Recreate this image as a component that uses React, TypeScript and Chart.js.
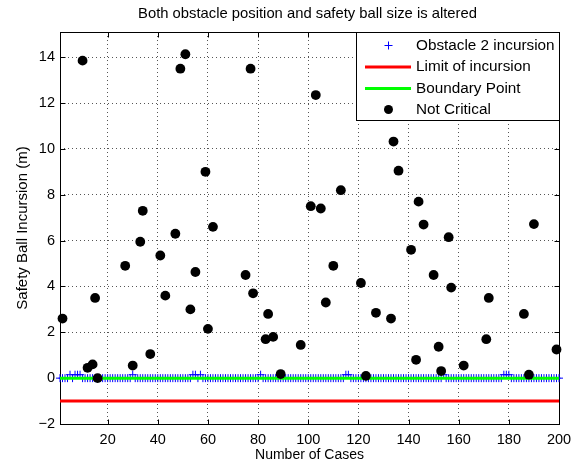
import { useEffect, useRef } from "react";
import { Chart, registerables } from "chart.js";

Chart.register(...registerables);

const titleText = "Both obstacle position and safety ball size is altered";
const xAxisLabel = "Number of Cases";
const yAxisLabel = "Safety Ball Incursion (m)";

const xTicks = [20, 40, 60, 80, 100, 120, 140, 160, 180, 200];
const yTicks = [-2, 0, 2, 4, 6, 8, 10, 12, 14];
const xRange = [1, 200];
const yRange = [-2, 15.1];

// case numbers 1..200
const caseNumbers = Array.from({ length: 200 }, (_, i) => i + 1);

// Obstacle 2 incursion (blue +), one value per case
const obstacleIncursion = [
  0, 0, 0, 0, 0.15, 0, 0.15, 0.15, 0.15, 0, 0, 0, 0, 0, 0, 0, 0, 0, 0, 0,
  0, 0, 0, 0, 0, 0, 0, 0, 0, 0.15, 0, 0, 0, 0, 0, 0, 0, 0, 0, 0,
  0, 0, 0, 0, 0, 0, 0, 0, 0, 0, 0, 0, 0, 0.15, 0.15, 0, 0.15, 0, 0, 0,
  0, 0, 0, 0, 0, 0, 0, 0, 0, 0, 0, 0, 0, 0, 0, 0, 0, 0, 0, 0,
  0.15, 0, 0, 0, 0, 0, 0, 0, 0, 0, 0, 0, 0, 0, 0, 0, 0, 0, 0, 0,
  0, 0, 0, 0, 0, 0, 0, 0, 0, 0, 0, 0, 0, 0, 0.15, 0.15, 0, 0, 0, 0,
  0, 0, 0, 0, 0, 0, 0, 0, 0, 0, 0, 0, 0, 0, 0, 0, 0, 0, 0, 0,
  0, 0, 0, 0, 0, 0, 0, 0, 0, 0, 0, 0, 0, 0.15, 0, 0, 0, 0, 0, 0,
  0, 0, 0, 0, 0, 0, 0, 0, 0, 0, 0, 0, 0, 0, 0, 0, 0, 0.15, 0.15, 0.15,
  0, 0, 0, 0, 0, 0, 0, 0, 0, 0, 0, 0, 0, 0, 0, 0, 0, 0, 0, 0,
];

// Limit of incursion (red line)
const limitX = [1, 200];
const limitY = [-1, -1];

// Boundary point (green line)
const boundaryX = [1, 200];
const boundaryY = [0, 0];

// Not critical (black dots)
const notCriticalX = [
  2, 10, 12, 14, 15, 16, 27, 30, 33, 34, 37, 41, 43, 47, 49, 51, 53, 55, 59, 60,
  62, 75, 77, 78, 83, 84, 86, 89, 97, 101, 103, 105, 107, 110, 113, 121, 123, 127,
  133, 134, 136, 141, 143, 144, 146, 150, 152, 153, 156, 157, 162, 171, 172, 186,
  188, 190, 199,
];
const notCriticalY = [
  2.6, 13.85, 0.45, 0.6, 3.5, 0.0, 4.9, 0.55, 5.95, 7.3, 1.05, 5.35, 3.6, 6.3, 13.5,
  14.13, 3.0, 4.63, 9.0, 2.15, 6.6, 4.5, 13.5, 3.7, 1.7, 2.8, 1.8, 0.18, 1.45, 7.5,
  12.35, 7.4, 3.3, 4.9, 8.2, 4.15, 0.1, 2.85, 2.6, 10.32, 9.05, 5.6, 0.8, 7.7, 6.7,
  4.5, 1.37, 0.31, 6.15, 3.95, 0.55, 1.7, 3.5, 2.8, 0.15, 6.72, 1.25,
];

const FONT = "'Liberation Sans', Arial, Helvetica, sans-serif";

const zip = (xs: number[], ys: number[]) => xs.map((x, i) => ({ x, y: ys[i] }));

const matlabFrame = {
  id: "matlabFrame",
  beforeDatasetsDraw(chart: any) {
    const { ctx, chartArea: a, scales } = chart;
    const L = Math.round(a.left) + 0.5;
    const R = Math.round(a.right) + 0.5;
    const T = Math.round(a.top) + 0.5;
    const B = Math.round(a.bottom) + 0.5;
    ctx.save();
    ctx.strokeStyle = "#000";
    ctx.lineWidth = 1;
    ctx.setLineDash([]);
    ctx.strokeRect(L, T, R - L, B - T);
    const tl = 5;
    ctx.beginPath();
    for (const v of xTicks) {
      const px = Math.round(scales.x.getPixelForValue(v)) + 0.5;
      ctx.moveTo(px, B);
      ctx.lineTo(px, B - tl);
      ctx.moveTo(px, T);
      ctx.lineTo(px, T + tl);
    }
    for (const v of yTicks) {
      const py = Math.round(scales.y.getPixelForValue(v)) + 0.5;
      ctx.moveTo(L, py);
      ctx.lineTo(L + tl, py);
      ctx.moveTo(R, py);
      ctx.lineTo(R - tl, py);
    }
    ctx.stroke();
    ctx.restore();
  },
  afterDraw(chart: any) {
    const { ctx, chartArea: a } = chart;
    ctx.save();
    // title
    ctx.fillStyle = "#000";
    ctx.font = `14.8px ${FONT}`;
    ctx.textAlign = "center";
    ctx.textBaseline = "middle";
    ctx.fillText(titleText, (a.left + a.right) / 2 - 2, 14);

    // legend box
    const bx = 356.5, by = 32.5, bw = 203, bh = 88;
    ctx.fillStyle = "#fff";
    ctx.fillRect(bx, by, bw, bh);
    ctx.strokeStyle = "#000";
    ctx.lineWidth = 1;
    ctx.strokeRect(bx, by, bw, bh);

    const rows = [45.5, 67, 88.5, 109.5];
    const ds = chart.data.datasets;
    const sampleL = 365, sampleR = 411, sampleC = 388.5, textX = 416;
    ds.forEach((d: any, i: number) => {
      const y = rows[i];
      if (d.kind === "cross") {
        ctx.strokeStyle = d.borderColor;
        ctx.lineWidth = 1;
        ctx.beginPath();
        ctx.moveTo(sampleC - 4, y);
        ctx.lineTo(sampleC + 4, y);
        ctx.moveTo(sampleC, y - 4);
        ctx.lineTo(sampleC, y + 4);
        ctx.stroke();
      } else if (d.kind === "line") {
        ctx.strokeStyle = d.borderColor;
        ctx.lineWidth = d.borderWidth;
        ctx.beginPath();
        ctx.moveTo(sampleL, y);
        ctx.lineTo(sampleR, y);
        ctx.stroke();
      } else {
        ctx.fillStyle = d.backgroundColor;
        ctx.beginPath();
        ctx.arc(sampleC, y, 4.5, 0, Math.PI * 2);
        ctx.fill();
      }
      ctx.fillStyle = "#000";
      ctx.font = `15.3px ${FONT}`;
      ctx.textAlign = "left";
      ctx.textBaseline = "middle";
      ctx.fillText(d.label, textX, y);
    });
    ctx.restore();
  },
};

export default function App() {
  const ref = useRef<HTMLCanvasElement | null>(null);

  useEffect(() => {
    if (!ref.current) return;
    const chart = new Chart(ref.current, {
      type: "scatter",
      data: {
        datasets: [
          {
            label: "Obstacle 2 incursion",
            kind: "cross",
            data: zip(caseNumbers, obstacleIncursion),
            pointStyle: "cross",
            pointRadius: 4,
            pointBorderWidth: 1,
            borderColor: "#0000ff",
            backgroundColor: "#0000ff",
            showLine: false,
            order: 4,
            clip: false,
          } as any,
          {
            label: "Limit of incursion",
            kind: "line",
            data: zip(limitX, limitY),
            showLine: true,
            borderColor: "#ff0000",
            backgroundColor: "#ff0000",
            borderWidth: 3,
            pointRadius: 0,
            order: 3,
            clip: false,
          } as any,
          {
            label: "Boundary Point",
            kind: "line",
            data: zip(boundaryX, boundaryY),
            showLine: true,
            borderColor: "#00ff00",
            backgroundColor: "#00ff00",
            borderWidth: 3,
            pointRadius: 0,
            order: 2,
            clip: false,
          } as any,
          {
            label: "Not Critical",
            kind: "dot",
            data: zip(notCriticalX, notCriticalY),
            pointStyle: "circle",
            pointRadius: 4.9,
            pointBorderWidth: 0,
            borderColor: "#000",
            backgroundColor: "#000",
            showLine: false,
            order: 1,
            clip: false,
          } as any,
        ],
      },
      options: {
        animation: false,
        responsive: false,
        devicePixelRatio: 1,
        events: [],
        layout: { padding: { top: 32, right: 22, left: 0, bottom: 0 } },
        plugins: {
          legend: { display: false },
          title: { display: false },
          tooltip: { enabled: false },
        },
        scales: {
          x: {
            type: "linear",
            position: "bottom",
            min: xRange[0],
            max: xRange[1],
            afterBuildTicks: (s: any) => {
              s.ticks = xTicks.map((v) => ({ value: v }));
            },
            afterFit: (s: any) => {
              s.height = 45;
            },
            grid: {
              color: "#555",
              lineWidth: 1,
              drawTicks: false,
            },
            border: { display: false, dash: [1, 3] },
            ticks: {
              color: "#000",
              font: { family: FONT, size: 14.5 },
              padding: 7,
              maxRotation: 0,
              autoSkip: false,
            },
            title: {
              display: true,
              text: xAxisLabel,
              color: "#000",
              font: { family: FONT, size: 14 },
              padding: { top: 0, bottom: 5 },
            },
          },
          y: {
            type: "linear",
            min: yRange[0],
            max: yRange[1],
            afterBuildTicks: (s: any) => {
              s.ticks = yTicks.map((v) => ({ value: v }));
            },
            afterFit: (s: any) => {
              s.width = 60;
            },
            grid: {
              color: "#555",
              lineWidth: 1,
              drawTicks: false,
            },
            border: { display: false, dash: [1, 3] },
            ticks: {
              color: "#000",
              font: { family: FONT, size: 14.5 },
              padding: 5,
              autoSkip: false,
              callback: (v: any) => (Number(v) < 0 ? "\u2212" + Math.abs(Number(v)) : String(v)),
            },
            title: {
              display: true,
              text: yAxisLabel,
              color: "#000",
              font: { family: FONT, size: 15 },
              padding: { top: 13.5, bottom: 0 },
            },
          },
        },
      },
      plugins: [matlabFrame],
    });
    return () => chart.destroy();
  }, []);

  return (
    <div style={{ position: "absolute", left: 0, top: 0, width: 581, height: 469, background: "#fff" }}>
      <canvas ref={ref} width={581} height={469} style={{ display: "block" }} />
    </div>
  );
}
